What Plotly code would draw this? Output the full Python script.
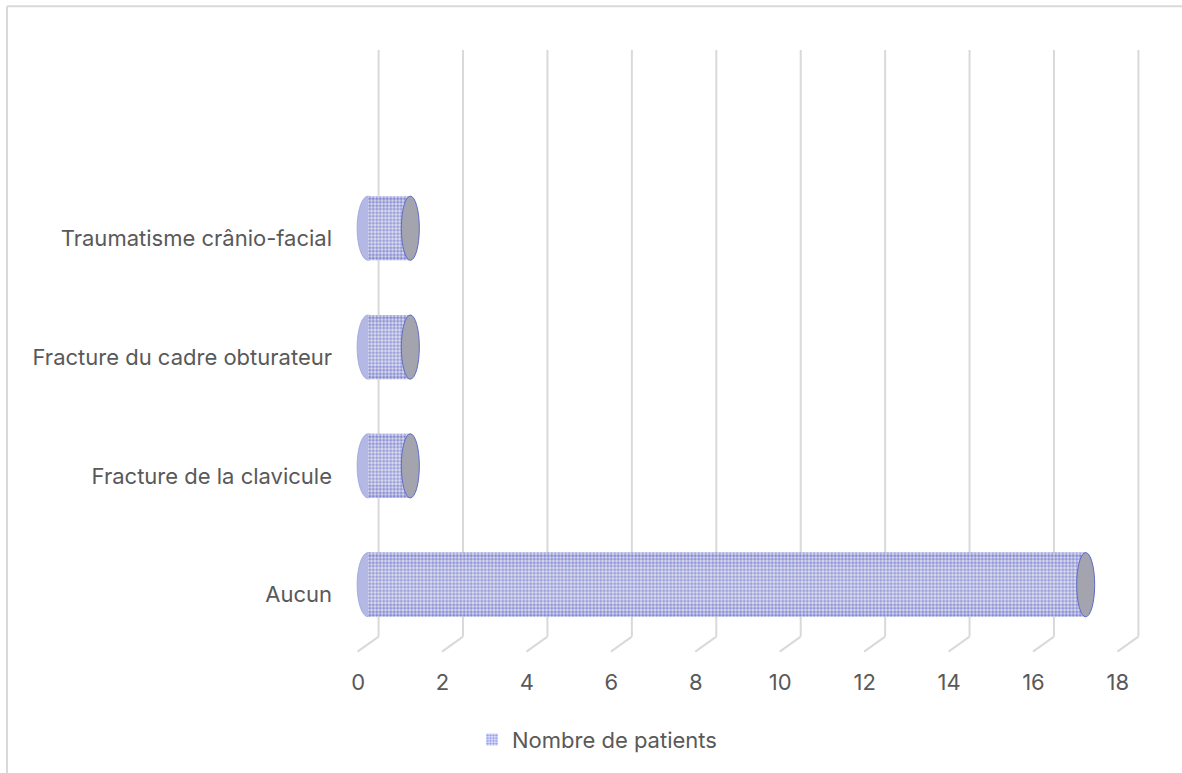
import plotly.graph_objects as go

# ---- data ----
categories = ["Aucun", "Fracture de la clavicule", "Fracture du cadre obturateur",
              "Traumatisme crânio-facial", ""]
values = [17, 1, 1, 1, None]
x_ticks = [0, 2, 4, 6, 8, 10, 12, 14, 16, 18]
series_name = "Nombre de patients"

FONT = "Inter"
TXT = "#595959"
GRID = "#d9d9d9"

ypos = list(range(len(categories)))
bar_w = 0.54

fig = go.Figure()

# base cylinder body with dotted pattern
fig.add_trace(go.Bar(
    x=values, y=ypos, orientation="h", width=bar_w, name=series_name,
    marker=dict(color="white", line=dict(width=0),
                pattern=dict(shape=".", fgcolor="#1a2ee0", bgcolor="white",
                             size=3.5, solidity=0.6, fillmode="overlay")),
    showlegend=True, hoverinfo="skip"))
# shading overlays for cylinder look
shades = [(bar_w, "rgba(95,95,135,0.22)"), (0.46, "rgba(255,255,255,0.10)"),
          (0.32, "rgba(255,255,255,0.10)")]
for w, c in shades:
    fig.add_trace(go.Bar(x=values, y=ypos, orientation="h", width=w,
                         marker=dict(color=c, line=dict(width=0)),
                         showlegend=False, hoverinfo="skip"))

shapes = []
# back gridlines + floor diagonals
for v in x_ticks:
    shapes.append(dict(type="line", layer="below", xref="x", xsizemode="pixel", xanchor=v,
                       x0=10.5, x1=10.5, yref="y", ysizemode="pixel", yanchor=-0.5,
                       y0=7.5, y1=603.5, line=dict(color=GRID, width=2)))
    shapes.append(dict(type="line", layer="below", xref="x", xsizemode="pixel", xanchor=v,
                       x0=10.5, x1=-10.5, yref="y", ysizemode="pixel", yanchor=-0.5,
                       y0=7.5, y1=-7.5, line=dict(color=GRID, width=2)))
# cylinder ends
for yi, v in zip(ypos, values):
    if v is None:
        continue
    shapes.append(dict(type="circle", layer="below", xref="x", xsizemode="pixel", xanchor=0,
                       x0=-11, x1=11, yref="y", y0=yi - bar_w / 2, y1=yi + bar_w / 2,
                       fillcolor="#b3b9e4", line=dict(color="#9aa2dc", width=0.8)))
    shapes.append(dict(type="circle", layer="above", xref="x", xsizemode="pixel", xanchor=v,
                       x0=-9, x1=9, yref="y", y0=yi - bar_w / 2, y1=yi + bar_w / 2,
                       fillcolor="#a3a4ad", line=dict(color="#5f6bc8", width=1)))
# chart border (left and top edges)
L, R, T, B = 347, 33, 50, 115
W = 1182 - L - R
H = 773 - T - B
bottom_px = 773 - B
shapes.append(dict(type="line", xref="paper", yref="paper",
                   x0=(7 - L) / W, x1=(1300 - L) / W,
                   y0=(bottom_px - 6) / H, y1=(bottom_px - 6) / H,
                   line=dict(color=GRID, width=2), layer="below"))
shapes.append(dict(type="line", xref="paper", yref="paper",
                   x0=(7 - L) / W, x1=(7 - L) / W,
                   y0=(bottom_px - 6) / H, y1=(bottom_px - 900) / H,
                   line=dict(color=GRID, width=2), layer="below"))

fig.update_layout(
    width=1182, height=773,
    margin=dict(l=L, r=R, t=T, b=B, pad=0),
    paper_bgcolor="white", plot_bgcolor="white",
    barmode="overlay",
    font=dict(family=FONT, size=22, color=TXT),
    shapes=shapes,
    xaxis=dict(range=[-0.5, 18.5], tickvals=x_ticks, showgrid=False, zeroline=False,
               showline=False, ticks="", ticklabelshift=-10, ticklabelstandoff=11,
               tickfont=dict(family=FONT, size=22, color=TXT), fixedrange=True),
    yaxis=dict(range=[-0.6, 4.5], tickvals=ypos, ticktext=categories, showgrid=False,
               zeroline=False, showline=False, ticks="", ticklabelshift=10,
               ticklabelstandoff=14, tickfont=dict(family=FONT, size=22, color=TXT),
               fixedrange=True),
    legend=dict(orientation="h", x=(597 - L) / W, xanchor="center",
                y=(bottom_px - 742) / H, yanchor="middle",
                font=dict(family=FONT, size=22, color=TXT), itemwidth=30),
    showlegend=True,
)

fig.write_html("out.html")
